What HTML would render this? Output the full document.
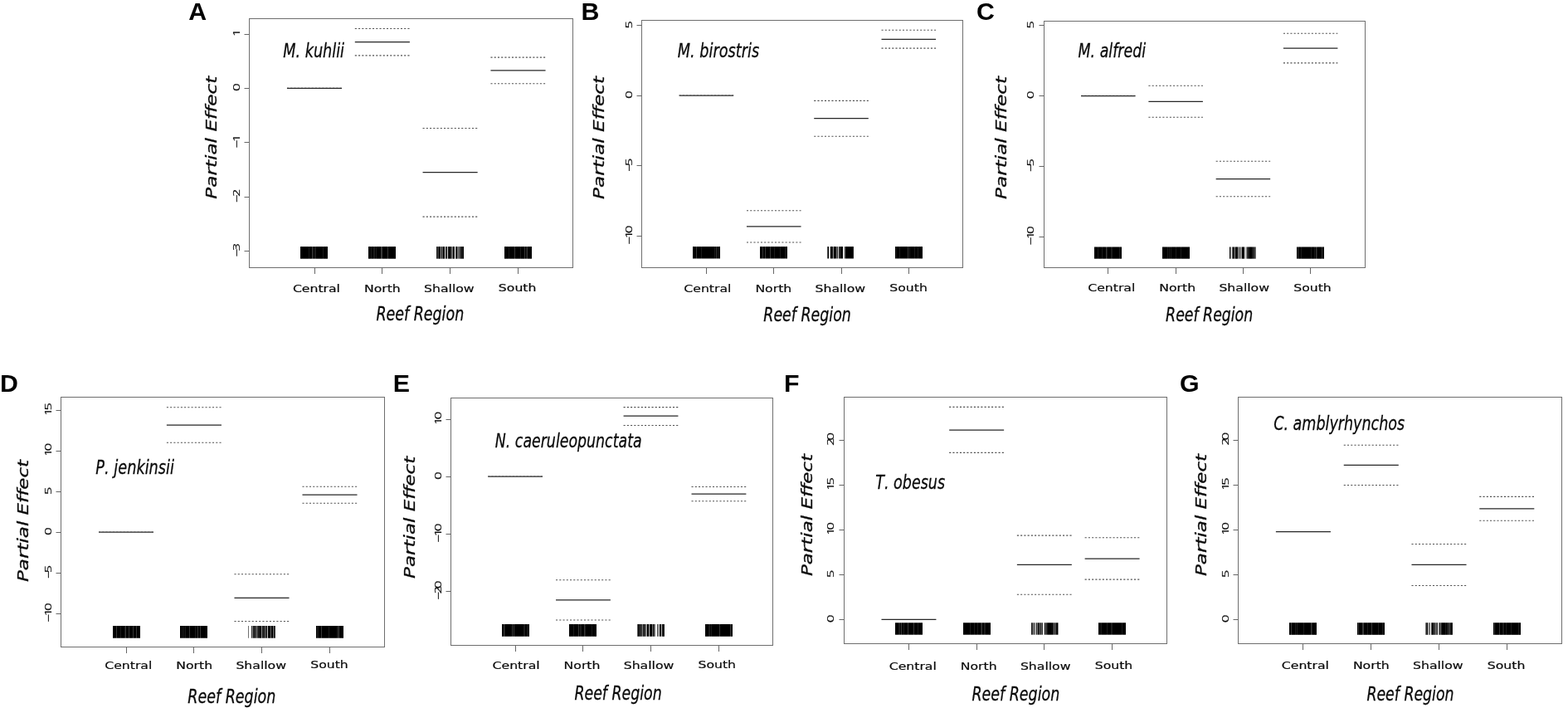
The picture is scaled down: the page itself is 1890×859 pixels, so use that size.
<!DOCTYPE html>
<html lang="en">
<head>
<meta charset="utf-8">
<title>Partial effects by reef region</title>
<style>
html,body{margin:0;padding:0;background:#fff;}
body{width:1890px;height:859px;overflow:hidden;font-family:"Liberation Sans","DejaVu Sans",sans-serif;}
svg{display:block;}
</style>
</head>
<body>
<svg width="1890" height="859" viewBox="0 0 1890 859">
<rect x="0" y="0" width="1890" height="859" fill="#fff"/>
<g id="panel-A">
<text x="227.29" y="24" font-family="'Liberation Sans',sans-serif" font-weight="bold" font-size="30.3" fill="#000">A</text>
<rect x="300.5" y="22.5" width="390" height="300" fill="none" stroke="#6e6e6e" stroke-width="1"/>
<line x1="294.5" y1="41.5" x2="300.5" y2="41.5" stroke="#666666" stroke-width="1"/>
<text transform="translate(288.75,41) rotate(-90) scale(1.43,1)" font-family="'NanumGothic','Liberation Sans',sans-serif" font-size="11.2" fill="#0a0a0a" stroke="#0a0a0a" stroke-width="0.24" x="-2.53">1</text>
<line x1="294.5" y1="106.5" x2="300.5" y2="106.5" stroke="#666666" stroke-width="1"/>
<text transform="translate(288.75,106.3) rotate(-90) scale(1.43,1)" font-family="'NanumGothic','Liberation Sans',sans-serif" font-size="11.2" fill="#0a0a0a" stroke="#0a0a0a" stroke-width="0.24" x="-2.61">0</text>
<line x1="294.5" y1="171.5" x2="300.5" y2="171.5" stroke="#666666" stroke-width="1"/>
<text transform="translate(288.75,171.5) rotate(-90) scale(1.43,1)" font-family="'NanumGothic','Liberation Sans',sans-serif" font-size="11.2" fill="#0a0a0a" stroke="#0a0a0a" stroke-width="0.24" x="-4.63 -0.08">−1</text>
<line x1="294.5" y1="237.5" x2="300.5" y2="237.5" stroke="#666666" stroke-width="1"/>
<text transform="translate(288.75,237.1) rotate(-90) scale(1.43,1)" font-family="'NanumGothic','Liberation Sans',sans-serif" font-size="11.2" fill="#0a0a0a" stroke="#0a0a0a" stroke-width="0.24" x="-4.63 0.07">−2</text>
<line x1="294.5" y1="302.5" x2="300.5" y2="302.5" stroke="#666666" stroke-width="1"/>
<text transform="translate(288.75,302.4) rotate(-90) scale(1.43,1)" font-family="'NanumGothic','Liberation Sans',sans-serif" font-size="11.2" fill="#0a0a0a" stroke="#0a0a0a" stroke-width="0.24" x="-4.63 -0.04">−3</text>
<line x1="379.5" y1="322.5" x2="379.5" y2="330" stroke="#666666" stroke-width="1"/>
<text transform="translate(352.91,351.7) scale(1.276,1)" font-family="'DejaVu Sans','Liberation Sans',sans-serif" font-size="12.3" fill="#0a0a0a" stroke="#0a0a0a" stroke-width="0.2">Central</text>
<line x1="460.5" y1="322.5" x2="460.5" y2="330" stroke="#666666" stroke-width="1"/>
<text transform="translate(438.95,351.7) scale(1.276,1)" font-family="'DejaVu Sans','Liberation Sans',sans-serif" font-size="12.3" fill="#0a0a0a" stroke="#0a0a0a" stroke-width="0.2">North</text>
<line x1="542.5" y1="322.5" x2="542.5" y2="330" stroke="#666666" stroke-width="1"/>
<text transform="translate(511.07,351.7) scale(1.276,1)" font-family="'DejaVu Sans','Liberation Sans',sans-serif" font-size="12.3" fill="#0a0a0a" stroke="#0a0a0a" stroke-width="0.2">Shallow</text>
<line x1="624.5" y1="322.5" x2="624.5" y2="330" stroke="#666666" stroke-width="1"/>
<text transform="translate(600.86,351.1) scale(1.276,1)" font-family="'DejaVu Sans','Liberation Sans',sans-serif" font-size="12.3" fill="#0a0a0a" stroke="#0a0a0a" stroke-width="0.2">South</text>
<line x1="345.95" y1="106.3" x2="412.05" y2="106.3" stroke="#262626" stroke-width="1.25"/>
<line x1="345.95" y1="105.8" x2="412.05" y2="105.8" stroke="#262626" stroke-width="0.5" stroke-dasharray="2.1 2.14" opacity="0.6"/>
<line x1="427.8" y1="34.5" x2="493.9" y2="34.5" stroke="#505050" stroke-width="1.1" stroke-dasharray="2.1 2.14"/>
<line x1="427.8" y1="66.9" x2="493.9" y2="66.9" stroke="#505050" stroke-width="1.1" stroke-dasharray="2.1 2.14"/>
<line x1="427.8" y1="50.7" x2="493.9" y2="50.7" stroke="#262626" stroke-width="1.25"/>
<line x1="509.55" y1="154.5" x2="575.65" y2="154.5" stroke="#505050" stroke-width="1.1" stroke-dasharray="2.1 2.14"/>
<line x1="509.55" y1="261.1" x2="575.65" y2="261.1" stroke="#505050" stroke-width="1.1" stroke-dasharray="2.1 2.14"/>
<line x1="509.55" y1="207.7" x2="575.65" y2="207.7" stroke="#262626" stroke-width="1.25"/>
<line x1="591.45" y1="69.1" x2="657.55" y2="69.1" stroke="#505050" stroke-width="1.1" stroke-dasharray="2.1 2.14"/>
<line x1="591.45" y1="100.7" x2="657.55" y2="100.7" stroke="#505050" stroke-width="1.1" stroke-dasharray="2.1 2.14"/>
<line x1="591.45" y1="84.8" x2="657.55" y2="84.8" stroke="#262626" stroke-width="1.25"/>
<g fill="#000"><rect x="362" y="297.1" width="10" height="14.6"/><rect x="372" y="297.1" width="1" height="14.6" opacity="0.89"/><rect x="373" y="297.1" width="3" height="14.6"/><rect x="376" y="297.1" width="1" height="14.6" opacity="0.78"/><rect x="377" y="297.1" width="1" height="14.6" opacity="0.89"/><rect x="378" y="297.1" width="1" height="14.6"/><rect x="379" y="297.1" width="2" height="14.6" opacity="0.89"/><rect x="381" y="297.1" width="8" height="14.6"/><rect x="389" y="297.1" width="1" height="14.6" opacity="0.89"/><rect x="390" y="297.1" width="5" height="14.6"/></g>
<g fill="#000"><rect x="444" y="297.1" width="3" height="14.6"/><rect x="447" y="297.1" width="1" height="14.6" opacity="0.89"/><rect x="448" y="297.1" width="2" height="14.6"/><rect x="450" y="297.1" width="2" height="14.6" opacity="0.89"/><rect x="452" y="297.1" width="1" height="14.6"/><rect x="453" y="297.1" width="1" height="14.6" opacity="0.89"/><rect x="454" y="297.1" width="5" height="14.6"/><rect x="459" y="297.1" width="2" height="14.6" opacity="0.78"/><rect x="461" y="297.1" width="6" height="14.6"/><rect x="467" y="297.1" width="1" height="14.6" opacity="0.78"/><rect x="468" y="297.1" width="9" height="14.6"/></g>
<g fill="#000"><rect x="526" y="297.1" width="1" height="14.6" opacity="0.89"/><rect x="527" y="297.1" width="2" height="14.6" opacity="0.78"/><rect x="529" y="297.1" width="1" height="14.6"/><rect x="530" y="297.1" width="1" height="14.6" opacity="0.89"/><rect x="531" y="297.1" width="1" height="14.6" opacity="0.44"/><rect x="532" y="297.1" width="1" height="14.6" opacity="0.89"/><rect x="533" y="297.1" width="1" height="14.6" opacity="0.56"/><rect x="534" y="297.1" width="1" height="14.6"/><rect x="535" y="297.1" width="1" height="14.6" opacity="0.89"/><rect x="536" y="297.1" width="1" height="14.6" opacity="0.22"/><rect x="537" y="297.1" width="1" height="14.6" opacity="0.78"/><rect x="538" y="297.1" width="1" height="14.6" opacity="0.89"/><rect x="539" y="297.1" width="1" height="14.6" opacity="0.22"/><rect x="540" y="297.1" width="1" height="14.6" opacity="0.89"/><rect x="541" y="297.1" width="1" height="14.6"/><rect x="542" y="297.1" width="2" height="14.6" opacity="0.89"/><rect x="544" y="297.1" width="2" height="14.6" opacity="0.56"/><rect x="546" y="297.1" width="1" height="14.6"/><rect x="547" y="297.1" width="1" height="14.6" opacity="0.89"/><rect x="549" y="297.1" width="1" height="14.6" opacity="0.78"/><rect x="550" y="297.1" width="1" height="14.6"/><rect x="551" y="297.1" width="2" height="14.6" opacity="0.56"/><rect x="553" y="297.1" width="2" height="14.6" opacity="0.67"/><rect x="555" y="297.1" width="3" height="14.6" opacity="0.89"/><rect x="558" y="297.1" width="1" height="14.6"/></g>
<g fill="#000"><rect x="608" y="297.1" width="5" height="14.6"/><rect x="613" y="297.1" width="1" height="14.6" opacity="0.89"/><rect x="614" y="297.1" width="6" height="14.6"/><rect x="620" y="297.1" width="1" height="14.6" opacity="0.78"/><rect x="621" y="297.1" width="6" height="14.6"/><rect x="627" y="297.1" width="1" height="14.6" opacity="0.89"/><rect x="628" y="297.1" width="4" height="14.6"/><rect x="632" y="297.1" width="1" height="14.6" opacity="0.78"/><rect x="633" y="297.1" width="1" height="14.6"/><rect x="634" y="297.1" width="1" height="14.6" opacity="0.89"/><rect x="635" y="297.1" width="1" height="14.6" opacity="0.78"/><rect x="636" y="297.1" width="5" height="14.6"/></g>
<text transform="translate(341.26,68.8) scale(0.7484,1)" font-family="'DejaVu Sans','Liberation Sans',sans-serif" font-style="italic" style="font-kerning:none;font-variant-ligatures:none" font-size="23.6" fill="#0a0a0a" stroke="#0a0a0a" stroke-width="0.3">M. kuhlii</text>
<text transform="translate(453.38,386.1) scale(0.7595,1)" font-family="'DejaVu Sans','Liberation Sans',sans-serif" font-style="italic" style="font-kerning:none;font-variant-ligatures:none" font-size="23.0" fill="#0a0a0a" stroke="#0a0a0a" stroke-width="0.3">Reef Region</text>
<text transform="translate(260.85,239.69) rotate(-90) scale(1.3157,1)" font-family="'DejaVu Sans','Liberation Sans',sans-serif" font-style="italic" style="font-kerning:none;font-variant-ligatures:none" font-size="17.6" fill="#0a0a0a" stroke="#0a0a0a" stroke-width="0.3">Partial Effect</text>
</g>
<g id="panel-B">
<text x="700.44" y="23.9" font-family="'Liberation Sans',sans-serif" font-weight="bold" font-size="30.3" fill="#000">B</text>
<rect x="773.5" y="24.5" width="387" height="298" fill="none" stroke="#6e6e6e" stroke-width="1"/>
<line x1="767.5" y1="30.5" x2="773.5" y2="30.5" stroke="#666666" stroke-width="1"/>
<text transform="translate(762.45,30.7) rotate(-90) scale(1.43,1)" font-family="'NanumGothic','Liberation Sans',sans-serif" font-size="11.2" fill="#0a0a0a" stroke="#0a0a0a" stroke-width="0.24" x="-2.75">5</text>
<line x1="767.5" y1="115.5" x2="773.5" y2="115.5" stroke="#666666" stroke-width="1"/>
<text transform="translate(762.45,115.3) rotate(-90) scale(1.43,1)" font-family="'NanumGothic','Liberation Sans',sans-serif" font-size="11.2" fill="#0a0a0a" stroke="#0a0a0a" stroke-width="0.24" x="-2.61">0</text>
<line x1="767.5" y1="199.5" x2="773.5" y2="199.5" stroke="#666666" stroke-width="1"/>
<text transform="translate(762.45,199.85) rotate(-90) scale(1.43,1)" font-family="'NanumGothic','Liberation Sans',sans-serif" font-size="11.2" fill="#0a0a0a" stroke="#0a0a0a" stroke-width="0.24" x="-4.63 -0.29">−5</text>
<line x1="767.5" y1="284.5" x2="773.5" y2="284.5" stroke="#666666" stroke-width="1"/>
<text transform="translate(762.45,284.4) rotate(-90) scale(1.43,1)" font-family="'NanumGothic','Liberation Sans',sans-serif" font-size="11.2" fill="#0a0a0a" stroke="#0a0a0a" stroke-width="0.24" x="-6.97 -2.41 2.18">−10</text>
<line x1="851.5" y1="322.5" x2="851.5" y2="330" stroke="#666666" stroke-width="1"/>
<text transform="translate(824.36,351.85) scale(1.276,1)" font-family="'DejaVu Sans','Liberation Sans',sans-serif" font-size="12.3" fill="#0a0a0a" stroke="#0a0a0a" stroke-width="0.2">Central</text>
<line x1="932.5" y1="322.5" x2="932.5" y2="330" stroke="#666666" stroke-width="1"/>
<text transform="translate(910.4,351.85) scale(1.276,1)" font-family="'DejaVu Sans','Liberation Sans',sans-serif" font-size="12.3" fill="#0a0a0a" stroke="#0a0a0a" stroke-width="0.2">North</text>
<line x1="1014.5" y1="322.5" x2="1014.5" y2="330" stroke="#666666" stroke-width="1"/>
<text transform="translate(982.52,351.85) scale(1.276,1)" font-family="'DejaVu Sans','Liberation Sans',sans-serif" font-size="12.3" fill="#0a0a0a" stroke="#0a0a0a" stroke-width="0.2">Shallow</text>
<line x1="1095.5" y1="322.5" x2="1095.5" y2="330" stroke="#666666" stroke-width="1"/>
<text transform="translate(1072.31,351.25) scale(1.276,1)" font-family="'DejaVu Sans','Liberation Sans',sans-serif" font-size="12.3" fill="#0a0a0a" stroke="#0a0a0a" stroke-width="0.2">South</text>
<line x1="818.61" y1="115" x2="884.19" y2="115" stroke="#262626" stroke-width="1.25"/>
<line x1="818.61" y1="114.5" x2="884.19" y2="114.5" stroke="#262626" stroke-width="0.5" stroke-dasharray="2.1 2.14" opacity="0.6"/>
<line x1="899.96" y1="253.8" x2="965.54" y2="253.8" stroke="#505050" stroke-width="1.1" stroke-dasharray="2.1 2.14"/>
<line x1="899.96" y1="292" x2="965.54" y2="292" stroke="#505050" stroke-width="1.1" stroke-dasharray="2.1 2.14"/>
<line x1="899.96" y1="272.9" x2="965.54" y2="272.9" stroke="#262626" stroke-width="1.25"/>
<line x1="981.21" y1="121.4" x2="1046.79" y2="121.4" stroke="#505050" stroke-width="1.1" stroke-dasharray="2.1 2.14"/>
<line x1="981.21" y1="164.2" x2="1046.79" y2="164.2" stroke="#505050" stroke-width="1.1" stroke-dasharray="2.1 2.14"/>
<line x1="981.21" y1="142.7" x2="1046.79" y2="142.7" stroke="#262626" stroke-width="1.25"/>
<line x1="1062.51" y1="36.2" x2="1128.09" y2="36.2" stroke="#505050" stroke-width="1.1" stroke-dasharray="2.1 2.14"/>
<line x1="1062.51" y1="58.1" x2="1128.09" y2="58.1" stroke="#505050" stroke-width="1.1" stroke-dasharray="2.1 2.14"/>
<line x1="1062.51" y1="47.25" x2="1128.09" y2="47.25" stroke="#262626" stroke-width="1.25"/>
<g fill="#000"><rect x="835" y="297.1" width="4" height="14.4"/><rect x="839" y="297.1" width="1" height="14.4" opacity="0.78"/><rect x="840" y="297.1" width="5" height="14.4"/><rect x="845" y="297.1" width="1" height="14.4" opacity="0.89"/><rect x="846" y="297.1" width="15" height="14.4"/><rect x="861" y="297.1" width="1" height="14.4" opacity="0.89"/><rect x="862" y="297.1" width="1" height="14.4"/><rect x="863" y="297.1" width="1" height="14.4" opacity="0.78"/><rect x="864" y="297.1" width="1" height="14.4"/><rect x="865" y="297.1" width="1" height="14.4" opacity="0.89"/><rect x="866" y="297.1" width="2" height="14.4"/></g>
<g fill="#000"><rect x="916" y="297.1" width="3" height="14.4"/><rect x="919" y="297.1" width="1" height="14.4" opacity="0.78"/><rect x="920" y="297.1" width="2" height="14.4"/><rect x="922" y="297.1" width="1" height="14.4" opacity="0.78"/><rect x="923" y="297.1" width="5" height="14.4"/><rect x="928" y="297.1" width="1" height="14.4" opacity="0.78"/><rect x="929" y="297.1" width="4" height="14.4"/><rect x="933" y="297.1" width="1" height="14.4" opacity="0.89"/><rect x="934" y="297.1" width="6" height="14.4"/><rect x="940" y="297.1" width="1" height="14.4" opacity="0.89"/><rect x="941" y="297.1" width="5" height="14.4"/><rect x="946" y="297.1" width="1" height="14.4" opacity="0.89"/><rect x="947" y="297.1" width="2" height="14.4"/></g>
<g fill="#000"><rect x="997" y="297.1" width="1" height="14.4" opacity="0.67"/><rect x="998" y="297.1" width="1" height="14.4"/><rect x="999" y="297.1" width="1" height="14.4" opacity="0.11"/><rect x="1000" y="297.1" width="1" height="14.4" opacity="0.22"/><rect x="1001" y="297.1" width="2" height="14.4"/><rect x="1003" y="297.1" width="1" height="14.4" opacity="0.89"/><rect x="1004" y="297.1" width="1" height="14.4" opacity="0.44"/><rect x="1005" y="297.1" width="2" height="14.4"/><rect x="1007" y="297.1" width="1" height="14.4" opacity="0.89"/><rect x="1008" y="297.1" width="1" height="14.4" opacity="0.56"/><rect x="1009" y="297.1" width="1" height="14.4" opacity="0.78"/><rect x="1010" y="297.1" width="1" height="14.4" opacity="0.22"/><rect x="1011" y="297.1" width="1" height="14.4" opacity="0.78"/><rect x="1012" y="297.1" width="2" height="14.4" opacity="0.89"/><rect x="1014" y="297.1" width="2" height="14.4"/><rect x="1017" y="297.1" width="1" height="14.4" opacity="0.33"/><rect x="1018" y="297.1" width="1" height="14.4" opacity="0.56"/><rect x="1019" y="297.1" width="9" height="14.4"/><rect x="1028" y="297.1" width="1" height="14.4" opacity="0.89"/></g>
<g fill="#000"><rect x="1079" y="297.1" width="1" height="14.4"/><rect x="1080" y="297.1" width="1" height="14.4" opacity="0.89"/><rect x="1081" y="297.1" width="3" height="14.4"/><rect x="1084" y="297.1" width="1" height="14.4" opacity="0.89"/><rect x="1085" y="297.1" width="9" height="14.4"/><rect x="1094" y="297.1" width="1" height="14.4" opacity="0.78"/><rect x="1095" y="297.1" width="1" height="14.4"/><rect x="1096" y="297.1" width="1" height="14.4" opacity="0.89"/><rect x="1097" y="297.1" width="5" height="14.4"/><rect x="1102" y="297.1" width="1" height="14.4" opacity="0.89"/><rect x="1103" y="297.1" width="3" height="14.4"/><rect x="1106" y="297.1" width="1" height="14.4" opacity="0.89"/><rect x="1107" y="297.1" width="5" height="14.4"/></g>
<text transform="translate(816.86,68.9) scale(0.7498,1)" font-family="'DejaVu Sans','Liberation Sans',sans-serif" font-style="italic" style="font-kerning:none;font-variant-ligatures:none" font-size="23.6" fill="#0a0a0a" stroke="#0a0a0a" stroke-width="0.3">M. birostris</text>
<text transform="translate(920.28,386.6) scale(0.7573,1)" font-family="'DejaVu Sans','Liberation Sans',sans-serif" font-style="italic" style="font-kerning:none;font-variant-ligatures:none" font-size="23.0" fill="#0a0a0a" stroke="#0a0a0a" stroke-width="0.3">Reef Region</text>
<text transform="translate(728.15,239.99) rotate(-90) scale(1.3148,1)" font-family="'DejaVu Sans','Liberation Sans',sans-serif" font-style="italic" style="font-kerning:none;font-variant-ligatures:none" font-size="17.6" fill="#0a0a0a" stroke="#0a0a0a" stroke-width="0.3">Partial Effect</text>
</g>
<g id="panel-C">
<text x="1177.06" y="24.3" font-family="'Liberation Sans',sans-serif" font-weight="bold" font-size="30.3" fill="#000">C</text>
<rect x="1258.5" y="25.5" width="387" height="297" fill="none" stroke="#6e6e6e" stroke-width="1"/>
<line x1="1252.5" y1="30.5" x2="1258.5" y2="30.5" stroke="#666666" stroke-width="1"/>
<text transform="translate(1246.45,30.9) rotate(-90) scale(1.43,1)" font-family="'NanumGothic','Liberation Sans',sans-serif" font-size="11.2" fill="#0a0a0a" stroke="#0a0a0a" stroke-width="0.24" x="-2.75">5</text>
<line x1="1252.5" y1="115.5" x2="1258.5" y2="115.5" stroke="#666666" stroke-width="1"/>
<text transform="translate(1246.45,115.5) rotate(-90) scale(1.43,1)" font-family="'NanumGothic','Liberation Sans',sans-serif" font-size="11.2" fill="#0a0a0a" stroke="#0a0a0a" stroke-width="0.24" x="-2.61">0</text>
<line x1="1252.5" y1="200.5" x2="1258.5" y2="200.5" stroke="#666666" stroke-width="1"/>
<text transform="translate(1246.45,200.25) rotate(-90) scale(1.43,1)" font-family="'NanumGothic','Liberation Sans',sans-serif" font-size="11.2" fill="#0a0a0a" stroke="#0a0a0a" stroke-width="0.24" x="-4.63 -0.29">−5</text>
<line x1="1252.5" y1="285.5" x2="1258.5" y2="285.5" stroke="#666666" stroke-width="1"/>
<text transform="translate(1246.45,285) rotate(-90) scale(1.43,1)" font-family="'NanumGothic','Liberation Sans',sans-serif" font-size="11.2" fill="#0a0a0a" stroke="#0a0a0a" stroke-width="0.24" x="-6.97 -2.41 2.18">−10</text>
<line x1="1335.5" y1="322.5" x2="1335.5" y2="330" stroke="#666666" stroke-width="1"/>
<text transform="translate(1311.26,351.4) scale(1.276,1)" font-family="'DejaVu Sans','Liberation Sans',sans-serif" font-size="12.3" fill="#0a0a0a" stroke="#0a0a0a" stroke-width="0.2">Central</text>
<line x1="1417.5" y1="322.5" x2="1417.5" y2="330" stroke="#666666" stroke-width="1"/>
<text transform="translate(1397.3,351.4) scale(1.276,1)" font-family="'DejaVu Sans','Liberation Sans',sans-serif" font-size="12.3" fill="#0a0a0a" stroke="#0a0a0a" stroke-width="0.2">North</text>
<line x1="1498.5" y1="322.5" x2="1498.5" y2="330" stroke="#666666" stroke-width="1"/>
<text transform="translate(1469.42,351.4) scale(1.276,1)" font-family="'DejaVu Sans','Liberation Sans',sans-serif" font-size="12.3" fill="#0a0a0a" stroke="#0a0a0a" stroke-width="0.2">Shallow</text>
<line x1="1579.5" y1="322.5" x2="1579.5" y2="330" stroke="#666666" stroke-width="1"/>
<text transform="translate(1559.21,350.8) scale(1.276,1)" font-family="'DejaVu Sans','Liberation Sans',sans-serif" font-size="12.3" fill="#0a0a0a" stroke="#0a0a0a" stroke-width="0.2">South</text>
<line x1="1303.05" y1="115.5" x2="1368.55" y2="115.5" stroke="#262626" stroke-width="1.25"/>
<line x1="1303.05" y1="115" x2="1368.55" y2="115" stroke="#262626" stroke-width="0.5" stroke-dasharray="2.1 2.14" opacity="0.6"/>
<line x1="1384.4" y1="103.2" x2="1449.9" y2="103.2" stroke="#505050" stroke-width="1.1" stroke-dasharray="2.1 2.14"/>
<line x1="1384.4" y1="141.3" x2="1449.9" y2="141.3" stroke="#505050" stroke-width="1.1" stroke-dasharray="2.1 2.14"/>
<line x1="1384.4" y1="122.3" x2="1449.9" y2="122.3" stroke="#262626" stroke-width="1.25"/>
<line x1="1465.65" y1="194.2" x2="1531.15" y2="194.2" stroke="#505050" stroke-width="1.1" stroke-dasharray="2.1 2.14"/>
<line x1="1465.65" y1="236.8" x2="1531.15" y2="236.8" stroke="#505050" stroke-width="1.1" stroke-dasharray="2.1 2.14"/>
<line x1="1465.65" y1="215.5" x2="1531.15" y2="215.5" stroke="#262626" stroke-width="1.25"/>
<line x1="1546.9" y1="40.3" x2="1612.4" y2="40.3" stroke="#505050" stroke-width="1.1" stroke-dasharray="2.1 2.14"/>
<line x1="1546.9" y1="75.9" x2="1612.4" y2="75.9" stroke="#505050" stroke-width="1.1" stroke-dasharray="2.1 2.14"/>
<line x1="1546.9" y1="58" x2="1612.4" y2="58" stroke="#262626" stroke-width="1.25"/>
<g fill="#000"><rect x="1319" y="297.5" width="4" height="14.2"/><rect x="1323" y="297.5" width="1" height="14.2" opacity="0.89"/><rect x="1324" y="297.5" width="4" height="14.2"/><rect x="1328" y="297.5" width="1" height="14.2" opacity="0.89"/><rect x="1329" y="297.5" width="4" height="14.2"/><rect x="1333" y="297.5" width="1" height="14.2" opacity="0.78"/><rect x="1334" y="297.5" width="1" height="14.2" opacity="0.89"/><rect x="1335" y="297.5" width="4" height="14.2"/><rect x="1339" y="297.5" width="2" height="14.2" opacity="0.89"/><rect x="1341" y="297.5" width="8" height="14.2"/><rect x="1349" y="297.5" width="1" height="14.2" opacity="0.89"/><rect x="1350" y="297.5" width="2" height="14.2"/></g>
<g fill="#000"><rect x="1401" y="297.5" width="6" height="14.2"/><rect x="1407" y="297.5" width="1" height="14.2" opacity="0.89"/><rect x="1408" y="297.5" width="1" height="14.2"/><rect x="1409" y="297.5" width="1" height="14.2" opacity="0.89"/><rect x="1410" y="297.5" width="1" height="14.2"/><rect x="1411" y="297.5" width="1" height="14.2" opacity="0.89"/><rect x="1412" y="297.5" width="5" height="14.2"/><rect x="1417" y="297.5" width="1" height="14.2" opacity="0.89"/><rect x="1418" y="297.5" width="5" height="14.2"/><rect x="1423" y="297.5" width="1" height="14.2" opacity="0.89"/><rect x="1424" y="297.5" width="10" height="14.2"/></g>
<g fill="#000"><rect x="1482" y="297.5" width="1" height="14.2"/><rect x="1483" y="297.5" width="1" height="14.2" opacity="0.44"/><rect x="1484" y="297.5" width="1" height="14.2" opacity="0.11"/><rect x="1485" y="297.5" width="1" height="14.2" opacity="0.67"/><rect x="1486" y="297.5" width="2" height="14.2" opacity="0.89"/><rect x="1488" y="297.5" width="1" height="14.2" opacity="0.44"/><rect x="1489" y="297.5" width="2" height="14.2"/><rect x="1491" y="297.5" width="1" height="14.2" opacity="0.89"/><rect x="1492" y="297.5" width="1" height="14.2" opacity="0.56"/><rect x="1493" y="297.5" width="1" height="14.2" opacity="0.44"/><rect x="1494" y="297.5" width="1" height="14.2" opacity="0.67"/><rect x="1495" y="297.5" width="2" height="14.2" opacity="0.44"/><rect x="1497" y="297.5" width="2" height="14.2"/><rect x="1499" y="297.5" width="1" height="14.2" opacity="0.89"/><rect x="1500" y="297.5" width="2" height="14.2" opacity="0.22"/><rect x="1502" y="297.5" width="1" height="14.2" opacity="0.44"/><rect x="1503" y="297.5" width="1" height="14.2" opacity="0.78"/><rect x="1504" y="297.5" width="2" height="14.2" opacity="0.89"/><rect x="1506" y="297.5" width="3" height="14.2"/><rect x="1509" y="297.5" width="2" height="14.2" opacity="0.89"/><rect x="1511" y="297.5" width="2" height="14.2" opacity="0.78"/><rect x="1513" y="297.5" width="1" height="14.2" opacity="0.56"/></g>
<g fill="#000"><rect x="1563" y="297.5" width="1" height="14.2"/><rect x="1564" y="297.5" width="1" height="14.2" opacity="0.78"/><rect x="1565" y="297.5" width="3" height="14.2"/><rect x="1568" y="297.5" width="1" height="14.2" opacity="0.89"/><rect x="1569" y="297.5" width="11" height="14.2"/><rect x="1580" y="297.5" width="1" height="14.2" opacity="0.89"/><rect x="1581" y="297.5" width="3" height="14.2"/><rect x="1584" y="297.5" width="1" height="14.2" opacity="0.89"/><rect x="1585" y="297.5" width="1" height="14.2"/><rect x="1586" y="297.5" width="1" height="14.2" opacity="0.78"/><rect x="1587" y="297.5" width="1" height="14.2" opacity="0.89"/><rect x="1588" y="297.5" width="5" height="14.2"/><rect x="1593" y="297.5" width="1" height="14.2" opacity="0.78"/><rect x="1594" y="297.5" width="2" height="14.2"/></g>
<text transform="translate(1299.56,69.2) scale(0.7381,1)" font-family="'DejaVu Sans','Liberation Sans',sans-serif" font-style="italic" style="font-kerning:none;font-variant-ligatures:none" font-size="23.6" fill="#0a0a0a" stroke="#0a0a0a" stroke-width="0.3">M. alfredi</text>
<text transform="translate(1405.08,386.6) scale(0.7544,1)" font-family="'DejaVu Sans','Liberation Sans',sans-serif" font-style="italic" style="font-kerning:none;font-variant-ligatures:none" font-size="23.0" fill="#0a0a0a" stroke="#0a0a0a" stroke-width="0.3">Reef Region</text>
<text transform="translate(1212.75,239.99) rotate(-90) scale(1.3148,1)" font-family="'DejaVu Sans','Liberation Sans',sans-serif" font-style="italic" style="font-kerning:none;font-variant-ligatures:none" font-size="17.6" fill="#0a0a0a" stroke="#0a0a0a" stroke-width="0.3">Partial Effect</text>
</g>
<g id="panel-D">
<text x="0.06" y="471.8" font-family="'Liberation Sans',sans-serif" font-weight="bold" font-size="30.3" fill="#000">D</text>
<rect x="73.5" y="478.5" width="390" height="301" fill="none" stroke="#6e6e6e" stroke-width="1"/>
<line x1="67.5" y1="494.5" x2="73.5" y2="494.5" stroke="#666666" stroke-width="1"/>
<text transform="translate(62.05,494.2) rotate(-90) scale(1.43,1)" font-family="'NanumGothic','Liberation Sans',sans-serif" font-size="11.2" fill="#0a0a0a" stroke="#0a0a0a" stroke-width="0.24" x="-4.87 -0.41">15</text>
<line x1="67.5" y1="543.5" x2="73.5" y2="543.5" stroke="#666666" stroke-width="1"/>
<text transform="translate(62.05,543.2) rotate(-90) scale(1.43,1)" font-family="'NanumGothic','Liberation Sans',sans-serif" font-size="11.2" fill="#0a0a0a" stroke="#0a0a0a" stroke-width="0.24" x="-4.87 -0.27">10</text>
<line x1="67.5" y1="592.5" x2="73.5" y2="592.5" stroke="#666666" stroke-width="1"/>
<text transform="translate(62.05,592.2) rotate(-90) scale(1.43,1)" font-family="'NanumGothic','Liberation Sans',sans-serif" font-size="11.2" fill="#0a0a0a" stroke="#0a0a0a" stroke-width="0.24" x="-2.75">5</text>
<line x1="67.5" y1="641.5" x2="73.5" y2="641.5" stroke="#666666" stroke-width="1"/>
<text transform="translate(62.05,641.15) rotate(-90) scale(1.43,1)" font-family="'NanumGothic','Liberation Sans',sans-serif" font-size="11.2" fill="#0a0a0a" stroke="#0a0a0a" stroke-width="0.24" x="-2.61">0</text>
<line x1="67.5" y1="690.5" x2="73.5" y2="690.5" stroke="#666666" stroke-width="1"/>
<text transform="translate(62.05,690.2) rotate(-90) scale(1.43,1)" font-family="'NanumGothic','Liberation Sans',sans-serif" font-size="11.2" fill="#0a0a0a" stroke="#0a0a0a" stroke-width="0.24" x="-4.63 -0.29">−5</text>
<line x1="67.5" y1="739.5" x2="73.5" y2="739.5" stroke="#666666" stroke-width="1"/>
<text transform="translate(62.05,739.2) rotate(-90) scale(1.43,1)" font-family="'NanumGothic','Liberation Sans',sans-serif" font-size="11.2" fill="#0a0a0a" stroke="#0a0a0a" stroke-width="0.24" x="-6.97 -2.41 2.18">−10</text>
<line x1="152.5" y1="779.5" x2="152.5" y2="787" stroke="#666666" stroke-width="1"/>
<text transform="translate(126.26,805.6) scale(1.276,1)" font-family="'DejaVu Sans','Liberation Sans',sans-serif" font-size="12.3" fill="#0a0a0a" stroke="#0a0a0a" stroke-width="0.2">Central</text>
<line x1="233.5" y1="779.5" x2="233.5" y2="787" stroke="#666666" stroke-width="1"/>
<text transform="translate(212.3,805.6) scale(1.276,1)" font-family="'DejaVu Sans','Liberation Sans',sans-serif" font-size="12.3" fill="#0a0a0a" stroke="#0a0a0a" stroke-width="0.2">North</text>
<line x1="315.5" y1="779.5" x2="315.5" y2="787" stroke="#666666" stroke-width="1"/>
<text transform="translate(284.42,805.6) scale(1.276,1)" font-family="'DejaVu Sans','Liberation Sans',sans-serif" font-size="12.3" fill="#0a0a0a" stroke="#0a0a0a" stroke-width="0.2">Shallow</text>
<line x1="397.5" y1="779.5" x2="397.5" y2="787" stroke="#666666" stroke-width="1"/>
<text transform="translate(374.21,805) scale(1.276,1)" font-family="'DejaVu Sans','Liberation Sans',sans-serif" font-size="12.3" fill="#0a0a0a" stroke="#0a0a0a" stroke-width="0.2">South</text>
<line x1="118.97" y1="641.2" x2="185.03" y2="641.2" stroke="#262626" stroke-width="1.25"/>
<line x1="118.97" y1="640.7" x2="185.03" y2="640.7" stroke="#262626" stroke-width="0.5" stroke-dasharray="2.1 2.14" opacity="0.6"/>
<line x1="200.87" y1="490.8" x2="266.93" y2="490.8" stroke="#505050" stroke-width="1.1" stroke-dasharray="2.1 2.14"/>
<line x1="200.87" y1="533.2" x2="266.93" y2="533.2" stroke="#505050" stroke-width="1.1" stroke-dasharray="2.1 2.14"/>
<line x1="200.87" y1="512.2" x2="266.93" y2="512.2" stroke="#262626" stroke-width="1.25"/>
<line x1="282.47" y1="691.8" x2="348.53" y2="691.8" stroke="#505050" stroke-width="1.1" stroke-dasharray="2.1 2.14"/>
<line x1="282.47" y1="748.5" x2="348.53" y2="748.5" stroke="#505050" stroke-width="1.1" stroke-dasharray="2.1 2.14"/>
<line x1="282.47" y1="720.3" x2="348.53" y2="720.3" stroke="#262626" stroke-width="1.25"/>
<line x1="364.47" y1="586.2" x2="430.53" y2="586.2" stroke="#505050" stroke-width="1.1" stroke-dasharray="2.1 2.14"/>
<line x1="364.47" y1="606.3" x2="430.53" y2="606.3" stroke="#505050" stroke-width="1.1" stroke-dasharray="2.1 2.14"/>
<line x1="364.47" y1="596.1" x2="430.53" y2="596.1" stroke="#262626" stroke-width="1.25"/>
<g fill="#000"><rect x="136" y="754" width="4" height="14.75"/><rect x="140" y="754" width="1" height="14.75" opacity="0.78"/><rect x="141" y="754" width="4" height="14.75"/><rect x="145" y="754" width="1" height="14.75" opacity="0.89"/><rect x="146" y="754" width="4" height="14.75"/><rect x="150" y="754" width="1" height="14.75" opacity="0.89"/><rect x="151" y="754" width="1" height="14.75" opacity="0.78"/><rect x="152" y="754" width="3" height="14.75"/><rect x="155" y="754" width="1" height="14.75" opacity="0.78"/><rect x="156" y="754" width="4" height="14.75"/><rect x="160" y="754" width="1" height="14.75" opacity="0.78"/><rect x="161" y="754" width="3" height="14.75"/><rect x="164" y="754" width="1" height="14.75" opacity="0.78"/><rect x="165" y="754" width="4" height="14.75"/></g>
<g fill="#000"><rect x="217" y="754" width="2" height="14.75"/><rect x="219" y="754" width="1" height="14.75" opacity="0.89"/><rect x="220" y="754" width="1" height="14.75"/><rect x="221" y="754" width="1" height="14.75" opacity="0.89"/><rect x="222" y="754" width="1" height="14.75"/><rect x="223" y="754" width="1" height="14.75" opacity="0.89"/><rect x="224" y="754" width="4" height="14.75"/><rect x="228" y="754" width="1" height="14.75" opacity="0.78"/><rect x="229" y="754" width="6" height="14.75"/><rect x="235" y="754" width="1" height="14.75" opacity="0.89"/><rect x="236" y="754" width="2" height="14.75"/><rect x="238" y="754" width="1" height="14.75" opacity="0.78"/><rect x="239" y="754" width="2" height="14.75"/><rect x="241" y="754" width="1" height="14.75" opacity="0.78"/><rect x="242" y="754" width="8" height="14.75"/></g>
<g fill="#000"><rect x="299" y="754" width="1" height="14.75" opacity="0.56"/><rect x="302" y="754" width="1" height="14.75" opacity="0.11"/><rect x="303" y="754" width="1" height="14.75" opacity="0.78"/><rect x="304" y="754" width="1" height="14.75" opacity="0.44"/><rect x="305" y="754" width="2" height="14.75" opacity="0.89"/><rect x="307" y="754" width="2" height="14.75" opacity="0.78"/><rect x="309" y="754" width="1" height="14.75" opacity="0.56"/><rect x="310" y="754" width="1" height="14.75" opacity="0.78"/><rect x="311" y="754" width="2" height="14.75" opacity="0.89"/><rect x="313" y="754" width="2" height="14.75"/><rect x="315" y="754" width="1" height="14.75" opacity="0.44"/><rect x="316" y="754" width="2" height="14.75" opacity="0.89"/><rect x="318" y="754" width="2" height="14.75" opacity="0.78"/><rect x="320" y="754" width="1" height="14.75" opacity="0.67"/><rect x="321" y="754" width="1" height="14.75"/><rect x="322" y="754" width="1" height="14.75" opacity="0.22"/><rect x="323" y="754" width="3" height="14.75"/><rect x="326" y="754" width="1" height="14.75" opacity="0.56"/><rect x="327" y="754" width="2" height="14.75"/><rect x="329" y="754" width="1" height="14.75" opacity="0.56"/><rect x="330" y="754" width="1" height="14.75" opacity="0.89"/><rect x="331" y="754" width="1" height="14.75" opacity="0.78"/></g>
<g fill="#000"><rect x="381" y="754" width="1" height="14.75"/><rect x="382" y="754" width="2" height="14.75" opacity="0.89"/><rect x="384" y="754" width="3" height="14.75"/><rect x="387" y="754" width="1" height="14.75" opacity="0.78"/><rect x="388" y="754" width="8" height="14.75"/><rect x="396" y="754" width="1" height="14.75" opacity="0.89"/><rect x="397" y="754" width="9" height="14.75"/><rect x="406" y="754" width="2" height="14.75" opacity="0.89"/><rect x="408" y="754" width="1" height="14.75" opacity="0.78"/><rect x="409" y="754" width="5" height="14.75"/></g>
<text transform="translate(115.27,571) scale(0.7530,1)" font-family="'DejaVu Sans','Liberation Sans',sans-serif" font-style="italic" style="font-kerning:none;font-variant-ligatures:none" font-size="23.6" fill="#0a0a0a" stroke="#0a0a0a" stroke-width="0.3">P. jenkinsii</text>
<text transform="translate(226.27,847.4) scale(0.7610,1)" font-family="'DejaVu Sans','Liberation Sans',sans-serif" font-style="italic" style="font-kerning:none;font-variant-ligatures:none" font-size="23.0" fill="#0a0a0a" stroke="#0a0a0a" stroke-width="0.3">Reef Region</text>
<text transform="translate(34.05,700.99) rotate(-90) scale(1.3068,1)" font-family="'DejaVu Sans','Liberation Sans',sans-serif" font-style="italic" style="font-kerning:none;font-variant-ligatures:none" font-size="17.6" fill="#0a0a0a" stroke="#0a0a0a" stroke-width="0.3">Partial Effect</text>
</g>
<g id="panel-E">
<text x="473.72" y="471.8" font-family="'Liberation Sans',sans-serif" font-weight="bold" font-size="30.3" fill="#000">E</text>
<rect x="543.5" y="479.5" width="388" height="298" fill="none" stroke="#6e6e6e" stroke-width="1"/>
<line x1="537.5" y1="505.5" x2="543.5" y2="505.5" stroke="#666666" stroke-width="1"/>
<text transform="translate(531.55,505.2) rotate(-90) scale(1.43,1)" font-family="'NanumGothic','Liberation Sans',sans-serif" font-size="11.2" fill="#0a0a0a" stroke="#0a0a0a" stroke-width="0.24" x="-4.87 -0.27">10</text>
<line x1="537.5" y1="574.5" x2="543.5" y2="574.5" stroke="#666666" stroke-width="1"/>
<text transform="translate(531.55,574.15) rotate(-90) scale(1.43,1)" font-family="'NanumGothic','Liberation Sans',sans-serif" font-size="11.2" fill="#0a0a0a" stroke="#0a0a0a" stroke-width="0.24" x="-2.61">0</text>
<line x1="537.5" y1="643.5" x2="543.5" y2="643.5" stroke="#666666" stroke-width="1"/>
<text transform="translate(531.55,643.25) rotate(-90) scale(1.43,1)" font-family="'NanumGothic','Liberation Sans',sans-serif" font-size="11.2" fill="#0a0a0a" stroke="#0a0a0a" stroke-width="0.24" x="-6.97 -2.41 2.18">−10</text>
<line x1="537.5" y1="712.5" x2="543.5" y2="712.5" stroke="#666666" stroke-width="1"/>
<text transform="translate(531.55,712.3) rotate(-90) scale(1.43,1)" font-family="'NanumGothic','Liberation Sans',sans-serif" font-size="11.2" fill="#0a0a0a" stroke="#0a0a0a" stroke-width="0.24" x="-6.97 -2.26 2.18">−20</text>
<line x1="621.5" y1="777.5" x2="621.5" y2="785" stroke="#666666" stroke-width="1"/>
<text transform="translate(593.56,806) scale(1.276,1)" font-family="'DejaVu Sans','Liberation Sans',sans-serif" font-size="12.3" fill="#0a0a0a" stroke="#0a0a0a" stroke-width="0.2">Central</text>
<line x1="702.5" y1="777.5" x2="702.5" y2="785" stroke="#666666" stroke-width="1"/>
<text transform="translate(679.6,806) scale(1.276,1)" font-family="'DejaVu Sans','Liberation Sans',sans-serif" font-size="12.3" fill="#0a0a0a" stroke="#0a0a0a" stroke-width="0.2">North</text>
<line x1="784.5" y1="777.5" x2="784.5" y2="785" stroke="#666666" stroke-width="1"/>
<text transform="translate(751.72,806) scale(1.276,1)" font-family="'DejaVu Sans','Liberation Sans',sans-serif" font-size="12.3" fill="#0a0a0a" stroke="#0a0a0a" stroke-width="0.2">Shallow</text>
<line x1="866.5" y1="777.5" x2="866.5" y2="785" stroke="#666666" stroke-width="1"/>
<text transform="translate(841.51,805.4) scale(1.276,1)" font-family="'DejaVu Sans','Liberation Sans',sans-serif" font-size="12.3" fill="#0a0a0a" stroke="#0a0a0a" stroke-width="0.2">South</text>
<line x1="588.17" y1="574.1" x2="654.03" y2="574.1" stroke="#262626" stroke-width="1.25"/>
<line x1="588.17" y1="573.6" x2="654.03" y2="573.6" stroke="#262626" stroke-width="0.5" stroke-dasharray="2.1 2.14" opacity="0.6"/>
<line x1="670.02" y1="698.7" x2="735.88" y2="698.7" stroke="#505050" stroke-width="1.1" stroke-dasharray="2.1 2.14"/>
<line x1="670.02" y1="747" x2="735.88" y2="747" stroke="#505050" stroke-width="1.1" stroke-dasharray="2.1 2.14"/>
<line x1="670.02" y1="722.9" x2="735.88" y2="722.9" stroke="#262626" stroke-width="1.25"/>
<line x1="751.57" y1="490.6" x2="817.43" y2="490.6" stroke="#505050" stroke-width="1.1" stroke-dasharray="2.1 2.14"/>
<line x1="751.57" y1="512.5" x2="817.43" y2="512.5" stroke="#505050" stroke-width="1.1" stroke-dasharray="2.1 2.14"/>
<line x1="751.57" y1="501.2" x2="817.43" y2="501.2" stroke="#262626" stroke-width="1.25"/>
<line x1="833.52" y1="586.55" x2="899.38" y2="586.55" stroke="#505050" stroke-width="1.1" stroke-dasharray="2.1 2.14"/>
<line x1="833.52" y1="603.8" x2="899.38" y2="603.8" stroke="#505050" stroke-width="1.1" stroke-dasharray="2.1 2.14"/>
<line x1="833.52" y1="595.2" x2="899.38" y2="595.2" stroke="#262626" stroke-width="1.25"/>
<g fill="#000"><rect x="605" y="752" width="2" height="14.8"/><rect x="607" y="752" width="1" height="14.8" opacity="0.78"/><rect x="608" y="752" width="1" height="14.8" opacity="0.89"/><rect x="609" y="752" width="8" height="14.8"/><rect x="617" y="752" width="1" height="14.8" opacity="0.78"/><rect x="618" y="752" width="1" height="14.8"/><rect x="619" y="752" width="1" height="14.8" opacity="0.78"/><rect x="620" y="752" width="11" height="14.8"/><rect x="631" y="752" width="2" height="14.8" opacity="0.89"/><rect x="633" y="752" width="2" height="14.8"/><rect x="635" y="752" width="1" height="14.8" opacity="0.89"/><rect x="636" y="752" width="2" height="14.8"/></g>
<g fill="#000"><rect x="686" y="752" width="5" height="14.8"/><rect x="691" y="752" width="1" height="14.8" opacity="0.89"/><rect x="692" y="752" width="5" height="14.8"/><rect x="697" y="752" width="1" height="14.8" opacity="0.78"/><rect x="698" y="752" width="1" height="14.8"/><rect x="699" y="752" width="2" height="14.8" opacity="0.89"/><rect x="701" y="752" width="3" height="14.8"/><rect x="704" y="752" width="1" height="14.8" opacity="0.78"/><rect x="705" y="752" width="1" height="14.8" opacity="0.89"/><rect x="706" y="752" width="7" height="14.8"/><rect x="713" y="752" width="1" height="14.8" opacity="0.89"/><rect x="714" y="752" width="5" height="14.8"/></g>
<g fill="#000"><rect x="768" y="752" width="1" height="14.8" opacity="0.67"/><rect x="769" y="752" width="1" height="14.8" opacity="0.89"/><rect x="770" y="752" width="1" height="14.8"/><rect x="771" y="752" width="1" height="14.8" opacity="0.67"/><rect x="772" y="752" width="1" height="14.8"/><rect x="773" y="752" width="1" height="14.8" opacity="0.67"/><rect x="774" y="752" width="1" height="14.8" opacity="0.56"/><rect x="775" y="752" width="1" height="14.8" opacity="0.89"/><rect x="776" y="752" width="1" height="14.8" opacity="0.78"/><rect x="777" y="752" width="1" height="14.8" opacity="0.89"/><rect x="778" y="752" width="2" height="14.8" opacity="0.44"/><rect x="780" y="752" width="2" height="14.8"/><rect x="782" y="752" width="1" height="14.8" opacity="0.33"/><rect x="783" y="752" width="1" height="14.8" opacity="0.89"/><rect x="784" y="752" width="2" height="14.8"/><rect x="786" y="752" width="1" height="14.8" opacity="0.56"/><rect x="787" y="752" width="1" height="14.8" opacity="0.89"/><rect x="788" y="752" width="1" height="14.8" opacity="0.78"/><rect x="789" y="752" width="1" height="14.8" opacity="0.44"/><rect x="790" y="752" width="1" height="14.8" opacity="0.11"/><rect x="792" y="752" width="1" height="14.8" opacity="0.67"/><rect x="793" y="752" width="1" height="14.8" opacity="0.44"/><rect x="794" y="752" width="1" height="14.8" opacity="0.22"/><rect x="795" y="752" width="2" height="14.8" opacity="0.89"/><rect x="797" y="752" width="1" height="14.8" opacity="0.33"/><rect x="798" y="752" width="1" height="14.8" opacity="0.89"/><rect x="799" y="752" width="1" height="14.8"/><rect x="800" y="752" width="1" height="14.8" opacity="0.89"/></g>
<g fill="#000"><rect x="850" y="752" width="4" height="14.8"/><rect x="854" y="752" width="2" height="14.8" opacity="0.89"/><rect x="856" y="752" width="1" height="14.8"/><rect x="857" y="752" width="1" height="14.8" opacity="0.89"/><rect x="858" y="752" width="9" height="14.8"/><rect x="867" y="752" width="1" height="14.8" opacity="0.78"/><rect x="868" y="752" width="12" height="14.8"/><rect x="880" y="752" width="1" height="14.8" opacity="0.78"/><rect x="881" y="752" width="2" height="14.8"/></g>
<text transform="translate(596.77,539.4) scale(0.7369,1)" font-family="'DejaVu Sans','Liberation Sans',sans-serif" font-style="italic" style="font-kerning:none;font-variant-ligatures:none" font-size="23.6" fill="#0a0a0a" stroke="#0a0a0a" stroke-width="0.3">N. caeruleopunctata</text>
<text transform="translate(692.38,843.3) scale(0.7559,1)" font-family="'DejaVu Sans','Liberation Sans',sans-serif" font-style="italic" style="font-kerning:none;font-variant-ligatures:none" font-size="23.0" fill="#0a0a0a" stroke="#0a0a0a" stroke-width="0.3">Reef Region</text>
<text transform="translate(499.75,696.89) rotate(-90) scale(1.3068,1)" font-family="'DejaVu Sans','Liberation Sans',sans-serif" font-style="italic" style="font-kerning:none;font-variant-ligatures:none" font-size="17.6" fill="#0a0a0a" stroke="#0a0a0a" stroke-width="0.3">Partial Effect</text>
</g>
<g id="panel-F">
<text x="944.9" y="471.95" font-family="'Liberation Sans',sans-serif" font-weight="bold" font-size="30.3" fill="#000">F</text>
<rect x="1017.5" y="478.5" width="389" height="297" fill="none" stroke="#6e6e6e" stroke-width="1"/>
<line x1="1011.5" y1="530.5" x2="1017.5" y2="530.5" stroke="#666666" stroke-width="1"/>
<text transform="translate(1005.45,530.25) rotate(-90) scale(1.43,1)" font-family="'NanumGothic','Liberation Sans',sans-serif" font-size="11.2" fill="#0a0a0a" stroke="#0a0a0a" stroke-width="0.24" x="-4.71 -0.27">20</text>
<line x1="1011.5" y1="584.5" x2="1017.5" y2="584.5" stroke="#666666" stroke-width="1"/>
<text transform="translate(1005.45,584.2) rotate(-90) scale(1.43,1)" font-family="'NanumGothic','Liberation Sans',sans-serif" font-size="11.2" fill="#0a0a0a" stroke="#0a0a0a" stroke-width="0.24" x="-4.87 -0.41">15</text>
<line x1="1011.5" y1="638.5" x2="1017.5" y2="638.5" stroke="#666666" stroke-width="1"/>
<text transform="translate(1005.45,638.25) rotate(-90) scale(1.43,1)" font-family="'NanumGothic','Liberation Sans',sans-serif" font-size="11.2" fill="#0a0a0a" stroke="#0a0a0a" stroke-width="0.24" x="-4.87 -0.27">10</text>
<line x1="1011.5" y1="692.5" x2="1017.5" y2="692.5" stroke="#666666" stroke-width="1"/>
<text transform="translate(1005.45,692.2) rotate(-90) scale(1.43,1)" font-family="'NanumGothic','Liberation Sans',sans-serif" font-size="11.2" fill="#0a0a0a" stroke="#0a0a0a" stroke-width="0.24" x="-2.75">5</text>
<line x1="1011.5" y1="746.5" x2="1017.5" y2="746.5" stroke="#666666" stroke-width="1"/>
<text transform="translate(1005.45,746.4) rotate(-90) scale(1.43,1)" font-family="'NanumGothic','Liberation Sans',sans-serif" font-size="11.2" fill="#0a0a0a" stroke="#0a0a0a" stroke-width="0.24" x="-2.61">0</text>
<line x1="1095.5" y1="775.5" x2="1095.5" y2="783" stroke="#666666" stroke-width="1"/>
<text transform="translate(1071.76,806.8) scale(1.276,1)" font-family="'DejaVu Sans','Liberation Sans',sans-serif" font-size="12.3" fill="#0a0a0a" stroke="#0a0a0a" stroke-width="0.2">Central</text>
<line x1="1177.5" y1="775.5" x2="1177.5" y2="783" stroke="#666666" stroke-width="1"/>
<text transform="translate(1157.8,806.8) scale(1.276,1)" font-family="'DejaVu Sans','Liberation Sans',sans-serif" font-size="12.3" fill="#0a0a0a" stroke="#0a0a0a" stroke-width="0.2">North</text>
<line x1="1258.5" y1="775.5" x2="1258.5" y2="783" stroke="#666666" stroke-width="1"/>
<text transform="translate(1229.92,806.8) scale(1.276,1)" font-family="'DejaVu Sans','Liberation Sans',sans-serif" font-size="12.3" fill="#0a0a0a" stroke="#0a0a0a" stroke-width="0.2">Shallow</text>
<line x1="1340.5" y1="775.5" x2="1340.5" y2="783" stroke="#666666" stroke-width="1"/>
<text transform="translate(1319.71,806.2) scale(1.276,1)" font-family="'DejaVu Sans','Liberation Sans',sans-serif" font-size="12.3" fill="#0a0a0a" stroke="#0a0a0a" stroke-width="0.2">South</text>
<line x1="1062.47" y1="746.4" x2="1128.43" y2="746.4" stroke="#262626" stroke-width="1.25"/>
<line x1="1144.17" y1="490.4" x2="1210.13" y2="490.4" stroke="#505050" stroke-width="1.1" stroke-dasharray="2.1 2.14"/>
<line x1="1144.17" y1="545.4" x2="1210.13" y2="545.4" stroke="#505050" stroke-width="1.1" stroke-dasharray="2.1 2.14"/>
<line x1="1144.17" y1="518.1" x2="1210.13" y2="518.1" stroke="#262626" stroke-width="1.25"/>
<line x1="1225.87" y1="645.1" x2="1291.83" y2="645.1" stroke="#505050" stroke-width="1.1" stroke-dasharray="2.1 2.14"/>
<line x1="1225.87" y1="716.3" x2="1291.83" y2="716.3" stroke="#505050" stroke-width="1.1" stroke-dasharray="2.1 2.14"/>
<line x1="1225.87" y1="680.4" x2="1291.83" y2="680.4" stroke="#262626" stroke-width="1.25"/>
<line x1="1307.62" y1="647.8" x2="1373.58" y2="647.8" stroke="#505050" stroke-width="1.1" stroke-dasharray="2.1 2.14"/>
<line x1="1307.62" y1="698.1" x2="1373.58" y2="698.1" stroke="#505050" stroke-width="1.1" stroke-dasharray="2.1 2.14"/>
<line x1="1307.62" y1="673" x2="1373.58" y2="673" stroke="#262626" stroke-width="1.25"/>
<g fill="#000"><rect x="1079" y="750.25" width="4" height="14.45"/><rect x="1083" y="750.25" width="2" height="14.45" opacity="0.89"/><rect x="1085" y="750.25" width="1" height="14.45"/><rect x="1086" y="750.25" width="1" height="14.45" opacity="0.78"/><rect x="1087" y="750.25" width="2" height="14.45"/><rect x="1089" y="750.25" width="1" height="14.45" opacity="0.89"/><rect x="1090" y="750.25" width="4" height="14.45"/><rect x="1094" y="750.25" width="1" height="14.45" opacity="0.78"/><rect x="1095" y="750.25" width="6" height="14.45"/><rect x="1101" y="750.25" width="1" height="14.45" opacity="0.78"/><rect x="1102" y="750.25" width="4" height="14.45"/><rect x="1106" y="750.25" width="1" height="14.45" opacity="0.89"/><rect x="1107" y="750.25" width="5" height="14.45"/></g>
<g fill="#000"><rect x="1161" y="750.25" width="8" height="14.45"/><rect x="1169" y="750.25" width="1" height="14.45" opacity="0.89"/><rect x="1170" y="750.25" width="4" height="14.45"/><rect x="1174" y="750.25" width="1" height="14.45" opacity="0.89"/><rect x="1175" y="750.25" width="3" height="14.45"/><rect x="1178" y="750.25" width="1" height="14.45" opacity="0.89"/><rect x="1179" y="750.25" width="3" height="14.45"/><rect x="1182" y="750.25" width="1" height="14.45" opacity="0.89"/><rect x="1183" y="750.25" width="1" height="14.45" opacity="0.78"/><rect x="1184" y="750.25" width="2" height="14.45"/><rect x="1186" y="750.25" width="2" height="14.45" opacity="0.89"/><rect x="1188" y="750.25" width="6" height="14.45"/></g>
<g fill="#000"><rect x="1243" y="750.25" width="1" height="14.45" opacity="0.89"/><rect x="1244" y="750.25" width="1" height="14.45" opacity="0.78"/><rect x="1245" y="750.25" width="1" height="14.45" opacity="0.44"/><rect x="1246" y="750.25" width="1" height="14.45" opacity="0.78"/><rect x="1247" y="750.25" width="2" height="14.45" opacity="0.33"/><rect x="1249" y="750.25" width="1" height="14.45" opacity="0.78"/><rect x="1250" y="750.25" width="1" height="14.45" opacity="0.56"/><rect x="1251" y="750.25" width="2" height="14.45" opacity="0.89"/><rect x="1253" y="750.25" width="1" height="14.45" opacity="0.56"/><rect x="1254" y="750.25" width="1" height="14.45" opacity="0.89"/><rect x="1255" y="750.25" width="1" height="14.45" opacity="0.56"/><rect x="1256" y="750.25" width="1" height="14.45" opacity="0.78"/><rect x="1257" y="750.25" width="2" height="14.45" opacity="0.11"/><rect x="1259" y="750.25" width="1" height="14.45"/><rect x="1260" y="750.25" width="1" height="14.45" opacity="0.56"/><rect x="1261" y="750.25" width="2" height="14.45" opacity="0.89"/><rect x="1263" y="750.25" width="5" height="14.45"/><rect x="1268" y="750.25" width="1" height="14.45" opacity="0.89"/><rect x="1269" y="750.25" width="1" height="14.45"/><rect x="1270" y="750.25" width="1" height="14.45" opacity="0.44"/><rect x="1271" y="750.25" width="1" height="14.45"/><rect x="1272" y="750.25" width="1" height="14.45" opacity="0.56"/><rect x="1273" y="750.25" width="2" height="14.45"/><rect x="1275" y="750.25" width="1" height="14.45" opacity="0.44"/></g>
<g fill="#000"><rect x="1324" y="750.25" width="1" height="14.45"/><rect x="1325" y="750.25" width="1" height="14.45" opacity="0.89"/><rect x="1326" y="750.25" width="1" height="14.45"/><rect x="1327" y="750.25" width="1" height="14.45" opacity="0.89"/><rect x="1328" y="750.25" width="6" height="14.45"/><rect x="1334" y="750.25" width="1" height="14.45" opacity="0.89"/><rect x="1335" y="750.25" width="4" height="14.45"/><rect x="1339" y="750.25" width="2" height="14.45" opacity="0.89"/><rect x="1341" y="750.25" width="11" height="14.45"/><rect x="1352" y="750.25" width="1" height="14.45" opacity="0.89"/><rect x="1353" y="750.25" width="4" height="14.45"/></g>
<text transform="translate(1055.21,588.65) scale(0.7433,1)" font-family="'DejaVu Sans','Liberation Sans',sans-serif" font-style="italic" style="font-kerning:none;font-variant-ligatures:none" font-size="23.6" fill="#0a0a0a" stroke="#0a0a0a" stroke-width="0.3">T. obesus</text>
<text transform="translate(1171.48,843.9) scale(0.7588,1)" font-family="'DejaVu Sans','Liberation Sans',sans-serif" font-style="italic" style="font-kerning:none;font-variant-ligatures:none" font-size="23.0" fill="#0a0a0a" stroke="#0a0a0a" stroke-width="0.3">Reef Region</text>
<text transform="translate(979.05,694.09) rotate(-90) scale(1.3068,1)" font-family="'DejaVu Sans','Liberation Sans',sans-serif" font-style="italic" style="font-kerning:none;font-variant-ligatures:none" font-size="17.6" fill="#0a0a0a" stroke="#0a0a0a" stroke-width="0.3">Partial Effect</text>
</g>
<g id="panel-G">
<text x="1422.01" y="471.9" font-family="'Liberation Sans',sans-serif" font-weight="bold" font-size="30.3" fill="#000">G</text>
<rect x="1492.5" y="478.5" width="390" height="297" fill="none" stroke="#6e6e6e" stroke-width="1"/>
<line x1="1486.5" y1="530.5" x2="1492.5" y2="530.5" stroke="#666666" stroke-width="1"/>
<text transform="translate(1481.15,530) rotate(-90) scale(1.43,1)" font-family="'NanumGothic','Liberation Sans',sans-serif" font-size="11.2" fill="#0a0a0a" stroke="#0a0a0a" stroke-width="0.24" x="-4.71 -0.27">20</text>
<line x1="1486.5" y1="584.5" x2="1492.5" y2="584.5" stroke="#666666" stroke-width="1"/>
<text transform="translate(1481.15,584.3) rotate(-90) scale(1.43,1)" font-family="'NanumGothic','Liberation Sans',sans-serif" font-size="11.2" fill="#0a0a0a" stroke="#0a0a0a" stroke-width="0.24" x="-4.87 -0.41">15</text>
<line x1="1486.5" y1="638.5" x2="1492.5" y2="638.5" stroke="#666666" stroke-width="1"/>
<text transform="translate(1481.15,638.3) rotate(-90) scale(1.43,1)" font-family="'NanumGothic','Liberation Sans',sans-serif" font-size="11.2" fill="#0a0a0a" stroke="#0a0a0a" stroke-width="0.24" x="-4.87 -0.27">10</text>
<line x1="1486.5" y1="692.5" x2="1492.5" y2="692.5" stroke="#666666" stroke-width="1"/>
<text transform="translate(1481.15,692.4) rotate(-90) scale(1.43,1)" font-family="'NanumGothic','Liberation Sans',sans-serif" font-size="11.2" fill="#0a0a0a" stroke="#0a0a0a" stroke-width="0.24" x="-2.75">5</text>
<line x1="1486.5" y1="746.5" x2="1492.5" y2="746.5" stroke="#666666" stroke-width="1"/>
<text transform="translate(1481.15,746.5) rotate(-90) scale(1.43,1)" font-family="'NanumGothic','Liberation Sans',sans-serif" font-size="11.2" fill="#0a0a0a" stroke="#0a0a0a" stroke-width="0.24" x="-2.61">0</text>
<line x1="1570.5" y1="775.5" x2="1570.5" y2="783" stroke="#666666" stroke-width="1"/>
<text transform="translate(1544.86,806.1) scale(1.276,1)" font-family="'DejaVu Sans','Liberation Sans',sans-serif" font-size="12.3" fill="#0a0a0a" stroke="#0a0a0a" stroke-width="0.2">Central</text>
<line x1="1652.5" y1="775.5" x2="1652.5" y2="783" stroke="#666666" stroke-width="1"/>
<text transform="translate(1630.9,806.1) scale(1.276,1)" font-family="'DejaVu Sans','Liberation Sans',sans-serif" font-size="12.3" fill="#0a0a0a" stroke="#0a0a0a" stroke-width="0.2">North</text>
<line x1="1734.5" y1="775.5" x2="1734.5" y2="783" stroke="#666666" stroke-width="1"/>
<text transform="translate(1703.02,806.1) scale(1.276,1)" font-family="'DejaVu Sans','Liberation Sans',sans-serif" font-size="12.3" fill="#0a0a0a" stroke="#0a0a0a" stroke-width="0.2">Shallow</text>
<line x1="1816.5" y1="775.5" x2="1816.5" y2="783" stroke="#666666" stroke-width="1"/>
<text transform="translate(1792.81,805.5) scale(1.276,1)" font-family="'DejaVu Sans','Liberation Sans',sans-serif" font-size="12.3" fill="#0a0a0a" stroke="#0a0a0a" stroke-width="0.2">South</text>
<line x1="1537.88" y1="640.7" x2="1603.92" y2="640.7" stroke="#262626" stroke-width="1.25"/>
<line x1="1619.73" y1="536.3" x2="1685.77" y2="536.3" stroke="#505050" stroke-width="1.1" stroke-dasharray="2.1 2.14"/>
<line x1="1619.73" y1="584.45" x2="1685.77" y2="584.45" stroke="#505050" stroke-width="1.1" stroke-dasharray="2.1 2.14"/>
<line x1="1619.73" y1="560.3" x2="1685.77" y2="560.3" stroke="#262626" stroke-width="1.25"/>
<line x1="1701.48" y1="655.5" x2="1767.52" y2="655.5" stroke="#505050" stroke-width="1.1" stroke-dasharray="2.1 2.14"/>
<line x1="1701.48" y1="705.45" x2="1767.52" y2="705.45" stroke="#505050" stroke-width="1.1" stroke-dasharray="2.1 2.14"/>
<line x1="1701.48" y1="680.4" x2="1767.52" y2="680.4" stroke="#262626" stroke-width="1.25"/>
<line x1="1783.28" y1="598.35" x2="1849.32" y2="598.35" stroke="#505050" stroke-width="1.1" stroke-dasharray="2.1 2.14"/>
<line x1="1783.28" y1="627.3" x2="1849.32" y2="627.3" stroke="#505050" stroke-width="1.1" stroke-dasharray="2.1 2.14"/>
<line x1="1783.28" y1="612.9" x2="1849.32" y2="612.9" stroke="#262626" stroke-width="1.25"/>
<g fill="#000"><rect x="1554" y="750.2" width="2" height="14.6"/><rect x="1556" y="750.2" width="1" height="14.6" opacity="0.78"/><rect x="1557" y="750.2" width="4" height="14.6"/><rect x="1561" y="750.2" width="1" height="14.6" opacity="0.89"/><rect x="1562" y="750.2" width="1" height="14.6"/><rect x="1563" y="750.2" width="1" height="14.6" opacity="0.89"/><rect x="1564" y="750.2" width="7" height="14.6"/><rect x="1571" y="750.2" width="1" height="14.6" opacity="0.89"/><rect x="1572" y="750.2" width="8" height="14.6"/><rect x="1580" y="750.2" width="1" height="14.6" opacity="0.78"/><rect x="1581" y="750.2" width="1" height="14.6" opacity="0.89"/><rect x="1582" y="750.2" width="5" height="14.6"/></g>
<g fill="#000"><rect x="1636" y="750.2" width="1" height="14.6"/><rect x="1637" y="750.2" width="1" height="14.6" opacity="0.78"/><rect x="1638" y="750.2" width="4" height="14.6"/><rect x="1642" y="750.2" width="2" height="14.6" opacity="0.78"/><rect x="1644" y="750.2" width="4" height="14.6"/><rect x="1648" y="750.2" width="1" height="14.6" opacity="0.89"/><rect x="1649" y="750.2" width="4" height="14.6"/><rect x="1653" y="750.2" width="1" height="14.6" opacity="0.78"/><rect x="1654" y="750.2" width="7" height="14.6"/><rect x="1661" y="750.2" width="1" height="14.6" opacity="0.89"/><rect x="1662" y="750.2" width="4" height="14.6"/><rect x="1666" y="750.2" width="1" height="14.6" opacity="0.89"/><rect x="1667" y="750.2" width="2" height="14.6"/></g>
<g fill="#000"><rect x="1718" y="750.2" width="1" height="14.6" opacity="0.56"/><rect x="1719" y="750.2" width="1" height="14.6" opacity="0.78"/><rect x="1720" y="750.2" width="1" height="14.6"/><rect x="1721" y="750.2" width="1" height="14.6" opacity="0.11"/><rect x="1722" y="750.2" width="1" height="14.6" opacity="0.67"/><rect x="1723" y="750.2" width="1" height="14.6" opacity="0.44"/><rect x="1724" y="750.2" width="1" height="14.6" opacity="0.11"/><rect x="1725" y="750.2" width="1" height="14.6" opacity="0.67"/><rect x="1726" y="750.2" width="1" height="14.6"/><rect x="1727" y="750.2" width="1" height="14.6" opacity="0.89"/><rect x="1728" y="750.2" width="2" height="14.6" opacity="0.78"/><rect x="1730" y="750.2" width="1" height="14.6" opacity="0.56"/><rect x="1731" y="750.2" width="1" height="14.6" opacity="0.67"/><rect x="1732" y="750.2" width="1" height="14.6" opacity="0.78"/><rect x="1733" y="750.2" width="1" height="14.6" opacity="0.11"/><rect x="1734" y="750.2" width="1" height="14.6" opacity="0.44"/><rect x="1735" y="750.2" width="1" height="14.6" opacity="0.89"/><rect x="1736" y="750.2" width="1" height="14.6" opacity="0.56"/><rect x="1737" y="750.2" width="1" height="14.6" opacity="0.89"/><rect x="1738" y="750.2" width="4" height="14.6"/><rect x="1742" y="750.2" width="1" height="14.6" opacity="0.89"/><rect x="1743" y="750.2" width="1" height="14.6"/><rect x="1744" y="750.2" width="2" height="14.6" opacity="0.89"/><rect x="1746" y="750.2" width="2" height="14.6" opacity="0.78"/><rect x="1748" y="750.2" width="1" height="14.6" opacity="0.89"/><rect x="1749" y="750.2" width="1" height="14.6"/><rect x="1750" y="750.2" width="1" height="14.6" opacity="0.89"/></g>
<g fill="#000"><rect x="1800" y="750.2" width="1" height="14.6"/><rect x="1801" y="750.2" width="1" height="14.6" opacity="0.78"/><rect x="1802" y="750.2" width="5" height="14.6"/><rect x="1807" y="750.2" width="1" height="14.6" opacity="0.78"/><rect x="1808" y="750.2" width="3" height="14.6"/><rect x="1811" y="750.2" width="2" height="14.6" opacity="0.89"/><rect x="1813" y="750.2" width="2" height="14.6"/><rect x="1815" y="750.2" width="1" height="14.6" opacity="0.89"/><rect x="1816" y="750.2" width="5" height="14.6"/><rect x="1821" y="750.2" width="1" height="14.6" opacity="0.89"/><rect x="1822" y="750.2" width="8" height="14.6"/><rect x="1830" y="750.2" width="1" height="14.6" opacity="0.89"/><rect x="1831" y="750.2" width="2" height="14.6"/></g>
<text transform="translate(1535.2,517.95) scale(0.7433,1)" font-family="'DejaVu Sans','Liberation Sans',sans-serif" font-style="italic" style="font-kerning:none;font-variant-ligatures:none" font-size="23.6" fill="#0a0a0a" stroke="#0a0a0a" stroke-width="0.3">C. amblyrhynchos</text>
<text transform="translate(1647.38,843.6) scale(0.7544,1)" font-family="'DejaVu Sans','Liberation Sans',sans-serif" font-style="italic" style="font-kerning:none;font-variant-ligatures:none" font-size="23.0" fill="#0a0a0a" stroke="#0a0a0a" stroke-width="0.3">Reef Region</text>
<text transform="translate(1454.25,693.99) rotate(-90) scale(1.3068,1)" font-family="'DejaVu Sans','Liberation Sans',sans-serif" font-style="italic" style="font-kerning:none;font-variant-ligatures:none" font-size="17.6" fill="#0a0a0a" stroke="#0a0a0a" stroke-width="0.3">Partial Effect</text>
</g>
</svg>
</body>
</html>
